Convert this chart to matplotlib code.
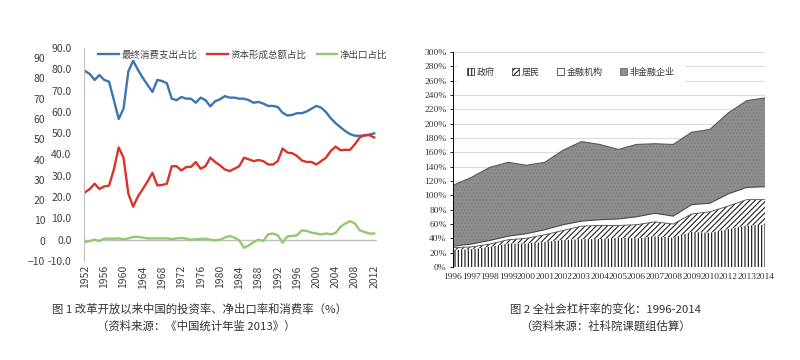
import numpy as np
import matplotlib.pyplot as plt
from matplotlib.patches import Patch

plt.rcParams['font.family'] = ['Noto Sans CJK SC', 'DejaVu Sans']
plt.rcParams['hatch.linewidth'] = 0.8

# ---- figure 1 data: shares of GDP (%), 1952-2012
years = list(range(1952, 2013))
consumption = [79.2, 77.8, 75.0, 77.3, 75.0, 74.2, 65.5, 56.7, 61.5, 79.0,
               84.0, 79.7, 76.0, 72.6, 69.4, 75.0, 74.5, 73.4, 66.2, 65.5,
               67.0, 66.2, 66.2, 64.3, 66.7, 65.5, 62.6, 65.0, 65.9, 67.4,
               66.7, 66.7, 66.2, 66.2, 65.5, 64.3, 64.7, 63.9, 62.8, 62.8,
               62.3, 59.6, 58.3, 58.6, 59.4, 59.4, 60.2, 61.5, 62.8, 62.0,
               59.9, 57.0, 54.7, 52.8, 51.0, 49.6, 48.8, 48.8, 48.8, 49.4, 49.9]
capital = [22.2, 23.8, 26.3, 23.8, 25.0, 25.4, 33.0, 43.3, 38.5, 21.6,
           15.5, 20.3, 23.8, 27.4, 31.4, 25.5, 25.7, 26.3, 34.5, 34.5,
           32.5, 34.1, 34.2, 36.5, 33.3, 34.5, 38.5, 36.5, 34.9, 33.0,
           32.2, 33.3, 34.5, 38.5, 37.7, 36.9, 37.4, 36.9, 35.3, 35.3,
           36.9, 42.8, 40.9, 40.6, 39.3, 37.2, 36.5, 36.5, 35.3, 36.9,
           38.5, 41.7, 43.7, 42.0, 42.2, 42.2, 44.8, 48.0, 49.1, 49.1, 48.0]
net_export = [-1.1, -0.6, 0.0, -0.6, 0.5, 0.5, 0.5, 0.6, 0.2, 0.6,
              1.3, 1.3, 1.0, 0.6, 0.6, 0.6, 0.6, 0.6, 0.3, 0.6,
              0.8, 0.5, 0.0, 0.2, 0.3, 0.5, 0.0, -0.3, 0.0, 1.0,
              1.7, 1.0, -0.3, -3.8, -2.7, -1.1, 0.0, -0.6, 2.5, 2.9,
              2.1, -1.4, 1.6, 1.7, 2.1, 4.4, 4.1, 3.3, 2.9, 2.5,
              2.9, 2.5, 3.2, 6.0, 7.6, 8.7, 7.6, 4.4, 3.6, 2.9, 2.9]
series_names = ['最终消费支出占比', '资本形成总额占比', '净出口占比']

# ---- figure 2 data: leverage ratio (% of GDP)
lev_years = ['1996', '1997', '1998', '1999', '2000', '2001', '2002', '2003', '2004',
             '2005', '2006', '2007', '2008', '2009', '2010', '2012', '2013', '2014']
government = [24, 25, 28, 33, 33, 35, 38, 39, 39, 41, 40, 43, 41, 49, 48, 53, 58, 59]
household = [3, 3, 4, 5, 7, 10, 13, 18, 19, 17, 19, 20, 19, 25, 29, 32, 36, 35]
financial = [2, 4, 5, 5, 6.5, 7, 8, 7, 8, 9, 11, 12, 11, 13, 12, 17, 17, 18]
nonfinancial = [85, 93, 102, 103, 95.5, 94, 104, 111, 105, 97, 101, 97, 100, 101, 103, 113, 121, 124]
lev_names = ['政府', '居民', '金融机构', '非金融企业']

fig = plt.figure(figsize=(8, 3.6), dpi=100)
txt = '#404040'

# ---------------- left chart
ax = fig.add_axes([84/800, 1-261/360, 295/800, 213/360])
ax.plot(years, consumption, color='#3a75b4', lw=1.7, label=series_names[0])
ax.plot(years, capital, color='#d9342c', lw=1.7, label=series_names[1])
ax.plot(years, net_export, color='#92c96e', lw=1.7, label=series_names[2])
ax.plot([1951.8, 2012.3], [0, 0], color='#c0c0c0', lw=1, zorder=0)
ax.set_xlim(1951.8, 2013)
ax.set_ylim(-10, 90)
ax.set_yticks(np.arange(-10, 91, 10))
ax.set_yticklabels(['%.1f' % v for v in np.arange(-10, 91, 10)])
ax.set_xticks(years[::4])
ax.tick_params(axis='x', labelrotation=90, length=0, labelsize=7.5, labelcolor=txt, pad=3)
ax.tick_params(axis='y', length=0, labelsize=7.5, labelcolor=txt, pad=9)
for s in ['top', 'right', 'bottom']:
    ax.spines[s].set_visible(False)
ax.spines['left'].set_color('#c0c0c0')
ax.legend(loc='upper left', bbox_to_anchor=(0.02, 1.03), ncol=3, frameon=False,
          fontsize=6.8, handlelength=2.2, columnspacing=1.1, handletextpad=0.2,
          labelcolor=txt)

# duplicated outer scale seen in the original
ax_o = fig.add_axes([84/800, 1-261/360, 295/800, 213/360])
ax_o.patch.set_visible(False)
ax_o.set_ylim(-10, 95)
ax_o.set_yticks(np.arange(-10, 91, 10))
ax_o.set_xticks([])
ax_o.tick_params(axis='y', length=0, labelsize=7.5, labelcolor=txt, pad=28)
for s in ax_o.spines.values():
    s.set_visible(False)

# ---------------- right chart
ax2 = fig.add_axes([453/800, 1-267/360, 312/800, 215/360])
x = np.arange(len(lev_years))
g = np.array(government, float)
h = g + np.array(household, float)
f = h + np.array(financial, float)
t = f + np.array(nonfinancial, float)
ax2.fill_between(x, 0, g, facecolor='white', edgecolor='#111111', hatch='|||||', lw=0)
ax2.fill_between(x, g, h, facecolor='white', edgecolor='#222222', hatch='//////', lw=0)
ax2.fill_between(x, h, f, facecolor='white', lw=0)
ax2.fill_between(x, f, t, facecolor='#8f8f8f', edgecolor='#7d7d7d', hatch='.....', lw=0)
ax2.plot(x, t, color='#5a5a5a', lw=0.8)
ax2.plot(x, f, color='#4a4a4a', lw=0.8)
ax2.plot(x, h, color='#4a4a4a', lw=0.6)
ax2.set_xlim(0, len(lev_years) - 1)
ax2.set_ylim(0, 300)
ax2.set_yticks(np.arange(0, 301, 20))
ax2.set_yticklabels(['%d%%' % v for v in np.arange(0, 301, 20)], family='Liberation Serif')
ax2.set_xticks(x)
ax2.set_xticklabels(lev_years, family='Liberation Serif')
ax2.grid(axis='y', color='#dcdcdc', lw=0.8)
ax2.set_axisbelow(True)
ax2.tick_params(axis='y', length=2.5, width=0.6, labelsize=6.8, labelcolor='#333333', pad=2)
ax2.tick_params(axis='x', length=0, labelsize=6.8, labelcolor='#333333', pad=4)
for s in ['top', 'right', 'bottom']:
    ax2.spines[s].set_visible(False)
ax2.spines['left'].set_linewidth(0.7)
handles = [Patch(facecolor='white', edgecolor='#222222', hatch='|||||', lw=0.5),
           Patch(facecolor='white', edgecolor='#222222', hatch='//////', lw=0.5),
           Patch(facecolor='white', edgecolor='#222222', lw=0.5),
           Patch(facecolor='#8f8f8f', edgecolor='#555555', lw=0.5)]
leg = ax2.legend(handles, lev_names, loc='upper left', bbox_to_anchor=(0.0, 0.99), ncol=4,
                 frameon=True, fontsize=6.5, handlelength=0.8, handleheight=0.8,
                 handletextpad=0.3, columnspacing=1.9, borderpad=1.0, labelcolor='#333333')
leg.get_frame().set_facecolor('white')
leg.get_frame().set_edgecolor('white')
leg.get_frame().set_alpha(1)
leg.set_zorder(5)

# ---------------- captions
cap = '#333333'
fig.text(200/800, 1-309/360, '图 1 改革开放以来中国的投资率、净出口率和消费率（%）', ha='center', va='center',
         fontsize=8.2, color=cap)
fig.text(196/800, 1-326/360, '（资料来源：《中国统计年鉴 2013》）', ha='center', va='center',
         fontsize=8.2, color=cap)
fig.text(605/800, 1-309/360, '图 2 全社会杠杆率的变化：1996-2014', ha='center', va='center',
         fontsize=8.2, color=cap)
fig.text(605/800, 1-326/360, '（资料来源：社科院课题组估算）', ha='center', va='center',
         fontsize=8.2, color=cap)

fig.savefig('out.png', dpi=100)
